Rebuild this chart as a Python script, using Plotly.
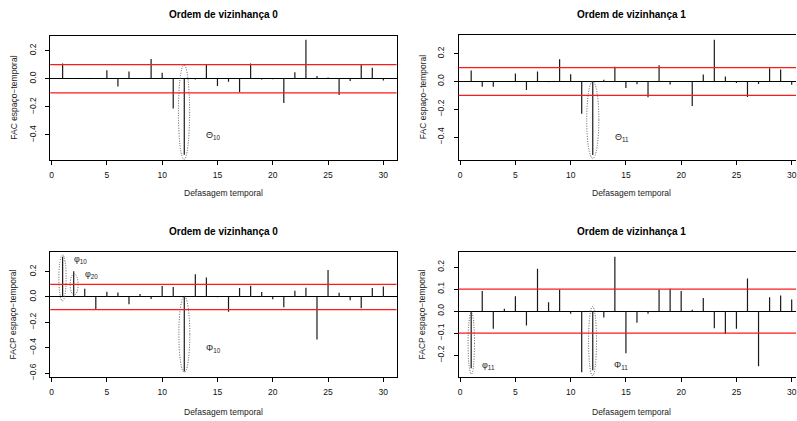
import plotly.graph_objects as go

W, H = 797, 421

lags = list(range(1, 31))
fac_v0 = [0.108, 0.005, 0.002, 0.005, 0.061, -0.056, 0.052, 0.001, 0.141, 0.042,
          -0.212, -0.541, -0.005, 0.099, -0.052, -0.021, -0.096, 0.108, -0.005, -0.003,
          -0.172, 0.047, 0.278, 0.019, 0.009, -0.115, -0.016, 0.099, 0.078, -0.012]
fac_v1 = [0.079, -0.038, -0.038, 0.003, 0.057, -0.062, 0.071, -0.005, 0.160, 0.052,
          -0.233, -0.529, 0.012, 0.105, -0.048, -0.021, -0.114, 0.117, -0.022, -0.003,
          -0.176, 0.050, 0.300, 0.036, -0.012, -0.112, -0.019, 0.095, 0.086, -0.024]
facp_v0 = [0.317, 0.203, 0.065, -0.099, 0.042, 0.036, -0.057, 0.023, -0.016, 0.086,
           0.078, -0.587, 0.179, 0.153, -0.003, -0.117, 0.070, 0.088, 0.039, -0.018,
           -0.081, 0.049, 0.073, -0.335, 0.213, 0.034, -0.026, -0.088, 0.070, 0.083]
facp_v1 = [-0.259, 0.092, -0.080, 0.011, 0.068, -0.065, 0.193, 0.041, 0.098, -0.012,
           -0.277, -0.268, -0.029, 0.247, -0.191, -0.053, -0.012, 0.099, 0.102, 0.092,
           0.006, 0.060, -0.078, -0.104, -0.080, 0.149, -0.250, 0.063, 0.071, 0.053]

titles = ["Ordem de vizinhança 0", "Ordem de vizinhança 1",
          "Ordem de vizinhança 0", "Ordem de vizinhança 1"]
xlabel = "Defasagem temporal"
ylabels = ["FAC espaço−temporal", "FAC espaço−temporal",
           "FACP espaço−temporal", "FACP espaço−temporal"]
series = [fac_v0, fac_v1, facp_v0, facp_v1]
conf_limit = 0.1
x_ticks = [0, 5, 10, 15, 20, 25, 30]
y_ticks = [[-0.4, -0.2, 0.0, 0.2], [-0.4, -0.2, 0.0, 0.2],
           [-0.6, -0.4, -0.2, 0.0, 0.2], [-0.2, -0.1, 0.0, 0.1, 0.2]]

# ellipses (panel, x0, x1, y0, y1) in data units
ellipses = [
    (0, 11.47, 12.48, -0.575, 0.098),
    (1, 11.45, 12.55, -0.553, 0.0),
    (2, 0.66, 1.32, -0.031, 0.332),
    (2, 1.68, 2.40, 0.016, 0.182),
    (2, 11.51, 12.50, -0.595, 0.005),
    (3, 0.72, 1.30, -0.286, -0.005),
    (3, 11.62, 12.34, -0.293, 0.021),
]
# greek labels (panel, x, y, symbol, subscript)
greek = [
    (0, 13.75, -0.405, "Θ", "10"),
    (1, 13.8, -0.40, "Θ", "11"),
    (2, 1.83, 0.299, "φ", "10"),
    (2, 2.85, 0.177, "φ", "20"),
    (2, 13.77, -0.405, "Φ", "10"),
    (3, 1.78, -0.248, "φ", "11"),
    (3, 13.75, -0.248, "Φ", "11"),
]

# layout geometry (pixels)
box_x = [(49.3, 396.5), (458.7, 797.0), (49.3, 396.5), (458.7, 797.0)]
box_y = [(36.0, 161.0), (35.7, 160.7), (254.0, 379.5), (254.0, 379.5)]
x_ranges = [[-0.126, 31.19], [-0.144, 30.39], [-0.126, 31.19], [-0.144, 30.39]]
y_ranges = [[-0.577, 0.306], [-0.562, 0.331], [-0.629, 0.353], [-0.298, 0.268]]
title_x = [223.0, 631.7, 223.0, 631.7]
title_y = [15.0, 15.0, 233.0, 233.0]
xlab_y = [194.0, 194.0, 415.0, 415.0]
ylab_x = [13.0, 422.7, 13.0, 423.0]

FONT = "Liberation Sans, Arial, Helvetica, sans-serif"
fig = go.Figure()
layout = dict(width=W, height=H, margin=dict(l=0, r=0, t=0, b=0),
              paper_bgcolor="white", plot_bgcolor="white", showlegend=False,
              font=dict(family=FONT, size=8.5, color="black"))
shapes = []
annotations = []

for i in range(4):
    ax = "" if i == 0 else str(i + 1)
    xr, yr = "x" + ax, "y" + ax
    xs, ys = [], []
    for lag, v in zip(lags, series[i]):
        xs += [lag, lag, None]
        ys += [0, v, None]
    fig.add_trace(go.Scatter(x=xs, y=ys, mode="lines", xaxis=xr, yaxis=yr,
                             line=dict(color="#1a1a1a", width=1.2), hoverinfo="skip"))
    x0p, x1p = box_x[i]
    y0p, y1p = box_y[i]
    layout["xaxis" + ax] = dict(
        domain=[x0p / W, x1p / W], range=x_ranges[i], anchor=yr,
        showgrid=False, zeroline=False, showline=True, mirror=True,
        linecolor="black", linewidth=1, ticks="outside", ticklen=4,
        tickcolor="black", tickwidth=1, tickvals=x_ticks,
        ticklabeloverflow="allow", ticklabelstandoff=3,
        tickfont=dict(size=8.5, color="#111"))
    layout["yaxis" + ax] = dict(
        domain=[1 - y1p / H, 1 - y0p / H], range=y_ranges[i], anchor=xr,
        showgrid=False, zeroline=True, zerolinecolor="black", zerolinewidth=1,
        showline=True, mirror=(i % 2 == 0), linecolor="black", linewidth=1,
        ticks="outside", ticklen=4, tickcolor="black", tickwidth=1,
        tickvals=y_ticks[i], tickformat=".1f", tickangle=-90,
        ticklabelstandoff=6,
        tickfont=dict(size=8.5, color="#111"))
    for yv in (conf_limit, -conf_limit):
        shapes.append(dict(type="line", xref=xr + " domain", yref=yr,
                           x0=0, x1=1, y0=yv, y1=yv,
                           line=dict(color="#ff1a1a", width=1.2)))
    annotations.append(dict(text="<b>%s</b>" % titles[i], xref="paper", yref="paper",
                            x=title_x[i] / W, y=1 - title_y[i] / H, showarrow=False,
                            xanchor="center", yanchor="middle",
                            font=dict(size=10, color="black")))
    annotations.append(dict(text=xlabel, xref="paper", yref="paper",
                            x=title_x[i] / W, y=1 - xlab_y[i] / H, showarrow=False,
                            xanchor="center", yanchor="middle",
                            font=dict(size=8.5, color="#222")))
    annotations.append(dict(text=ylabels[i], xref="paper", yref="paper",
                            x=ylab_x[i] / W, y=1 - (y0p + y1p) / 2 / H, showarrow=False,
                            xanchor="center", yanchor="middle", textangle=-90,
                            font=dict(size=8.5, color="#222")))

for (p, ex0, ex1, ey0, ey1) in ellipses:
    ax = "" if p == 0 else str(p + 1)
    shapes.append(dict(type="circle", xref="x" + ax, yref="y" + ax,
                       x0=ex0, x1=ex1, y0=ey0, y1=ey1,
                       line=dict(color="#555", width=1, dash="1px,1.5px")))

for (p, gx, gy, sym, sub) in greek:
    ax = "" if p == 0 else str(p + 1)
    annotations.append(dict(text="%s<sub>%s</sub>" % (sym, sub), xref="x" + ax,
                            yref="y" + ax, x=gx, y=gy, showarrow=False,
                            xanchor="left", yanchor="middle",
                            font=dict(family="Liberation Sans", size=9, color="#222")))

layout["shapes"] = shapes
layout["annotations"] = annotations
fig.update_layout(**layout)
fig.write_html("out.html")
